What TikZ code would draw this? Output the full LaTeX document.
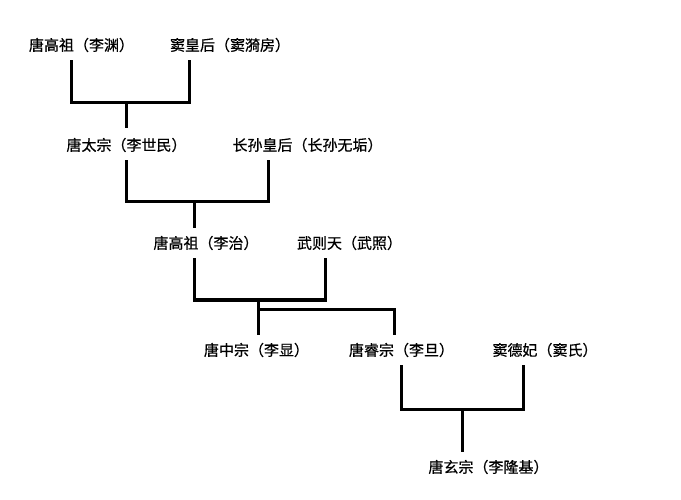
\documentclass[tikz,border=0pt]{standalone}
\usepackage{fontspec}
\newfontfamily\cjk{Noto Sans CJK SC}[FakeBold=0.6]
\tikzset{
  person/.style={font=\cjk\fontsize{15}{15}\selectfont, inner sep=0pt},
  link/.style={line width=3pt, line join=miter}
}
\begin{document}
\begin{tikzpicture}[x=1pt,y=-1pt]
\useasboundingbox[fill=white] (0,0) rectangle (681,500);
%%%% generations
\node[person] (gzy) at (81.5,45) {唐高祖（李渊）};
\node[person] (dhh) at (230,45) {窦皇后（窦漪房）};
\node[person] (tz) at (126.5,145) {唐太宗（李世民）};
\node[person] (zsh) at (307.5,145) {长孙皇后（长孙无垢）};
\node[person] (gzz) at (206,243) {唐高祖（李治）};
\node[person] (wzt) at (349.5,243) {武则天（武照）};
\node[person] (zz) at (256.5,350) {唐中宗（李显）};
\node[person] (rz) at (401.5,350) {唐睿宗（李旦）};
\node[person] (ddf) at (545,350) {窦德妃（窦氏）};
\node[person] (xz) at (488.5,467) {唐玄宗（李隆基）};
%%%% junctions
\coordinate (j1) at (126,103);
\coordinate (j2) at (194,202);
\coordinate (j3) at (258,300);
\coordinate (j4) at (258,309);
\coordinate (j5) at (462,409);
%%%% brackets
\draw[link] ([yshift=-8pt]gzy.south -| 71,0) |- (j1) -| ([yshift=-8pt]dhh.south -| 189,0);
\draw[link] (j1) -- ([yshift=10pt]tz.north -| j1);
\draw[link] ([yshift=-8pt]tz.south -| j1) |- (j2) -| ([yshift=-8pt]zsh.south -| 268,0);
\draw[link] (j2) -- ([yshift=8pt]gzz.north -| j2);
\draw[link] ([yshift=-8pt]gzz.south -| j2) |- (j3) -| ([yshift=-8pt]wzt.south -| 325,0);
\draw[link] (j3) -- ([yshift=8pt]zz.north -| j3);
\draw[link] (j4) -| ([yshift=8pt]rz.north -| 394,0);
\draw[link] ([yshift=-8pt]rz.south -| 401,0) |- (j5) -| ([yshift=-8pt]ddf.south -| 523,0);
\draw[link] (j5) -- ([yshift=8pt]xz.north -| j5);
\end{tikzpicture}
\end{document}
